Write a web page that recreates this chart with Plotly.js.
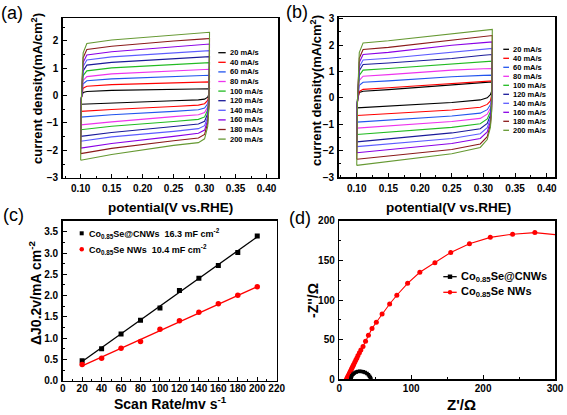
<!DOCTYPE html>
<html><head><meta charset="utf-8">
<script src="https://cdn.plot.ly/plotly-3.0.1.min.js"></script>
<style>html,body{margin:0;padding:0;background:#fff;}#chart{width:567px;height:415px;}</style>
</head><body><div id="chart"></div>
<script>
// ---------- data ----------
const rates = [20, 40, 60, 80, 100, 120, 140, 160, 180, 200];
const cvColors = ['#000000', '#ff0000', '#2255ee', '#ee33ee', '#22bb22', '#1a1a99', '#5c5cff', '#8a00e6', '#8b1a1a', '#669933'];

// potential along each closed CV loop (upper sweep, then lower sweep back)
const potentialA = [0.100, 0.101, 0.104, 0.110, 0.150, 0.200, 0.250, 0.300, 0.308, 0.307, 0.305, 0.300, 0.290, 0.250, 0.200, 0.150, 0.100];
const potentialB = [0.100, 0.101, 0.104, 0.110, 0.150, 0.200, 0.250, 0.300, 0.314, 0.313, 0.311, 0.306, 0.295, 0.250, 0.200, 0.150, 0.100];

// (a) current density, mA/cm2
const a20  = [-0.32, -0.08, 0.11, 0.15, 0.19, 0.21, 0.23, 0.25, 0.25, 0.05, -0.06, -0.13, -0.16, -0.19, -0.23, -0.27, -0.32];
const a40  = [-0.58, -0.12, 0.27, 0.34, 0.40, 0.43, 0.46, 0.49, 0.50, 0.00, -0.18, -0.30, -0.35, -0.40, -0.45, -0.51, -0.58];
const a60  = [-0.79, -0.12, 0.43, 0.54, 0.61, 0.65, 0.69, 0.73, 0.74, -0.05, -0.30, -0.46, -0.52, -0.58, -0.64, -0.70, -0.79];
const a80  = [-1.07, -0.19, 0.55, 0.69, 0.79, 0.84, 0.90, 0.95, 0.96, -0.10, -0.42, -0.62, -0.70, -0.77, -0.86, -0.96, -1.07];
const a100 = [-1.25, -0.17, 0.73, 0.90, 1.01, 1.07, 1.13, 1.19, 1.20, -0.15, -0.53, -0.78, -0.87, -0.95, -1.04, -1.12, -1.25];
const a120 = [-1.49, -0.19, 0.90, 1.11, 1.21, 1.28, 1.35, 1.41, 1.42, -0.20, -0.66, -0.94, -1.04, -1.13, -1.24, -1.35, -1.49];
const a140 = [-1.67, -0.18, 1.06, 1.30, 1.41, 1.49, 1.56, 1.63, 1.64, -0.27, -0.78, -1.10, -1.21, -1.31, -1.41, -1.51, -1.67];
const a160 = [-1.92, -0.22, 1.21, 1.48, 1.60, 1.69, 1.78, 1.86, 1.88, -0.33, -0.90, -1.26, -1.38, -1.49, -1.62, -1.75, -1.92];
const a180 = [-2.12, -0.22, 1.38, 1.68, 1.80, 1.90, 1.99, 2.07, 2.08, -0.38, -1.02, -1.42, -1.55, -1.65, -1.79, -1.93, -2.12];
const a200 = [-2.36, -0.23, 1.56, 1.90, 2.03, 2.12, 2.21, 2.29, 2.31, -0.45, -1.14, -1.58, -1.72, -1.82, -1.99, -2.15, -2.36];

// (b) current density, mA/cm2
const b20  = [-0.38, -0.07, 0.20, 0.25, 0.31, 0.39, 0.48, 0.57, 0.60, 0.25, 0.12, 0.00, -0.08, -0.18, -0.25, -0.31, -0.38];
const b40  = [-0.67, -0.18, 0.24, 0.32, 0.38, 0.46, 0.55, 0.62, 0.64, 0.10, -0.12, -0.25, -0.36, -0.46, -0.53, -0.60, -0.67];
const b60  = [-0.92, -0.17, 0.47, 0.59, 0.64, 0.72, 0.80, 0.85, 0.86, 0.00, -0.26, -0.45, -0.58, -0.69, -0.77, -0.84, -0.92];
const b80  = [-1.15, -0.17, 0.66, 0.82, 0.88, 0.96, 1.05, 1.10, 1.11, -0.08, -0.40, -0.62, -0.78, -0.90, -0.99, -1.07, -1.15];
const b100 = [-1.39, -0.17, 0.85, 1.05, 1.11, 1.19, 1.28, 1.37, 1.39, -0.15, -0.53, -0.80, -0.98, -1.12, -1.21, -1.30, -1.39];
const b120 = [-1.67, -0.21, 1.03, 1.26, 1.32, 1.40, 1.49, 1.61, 1.64, -0.22, -0.66, -0.97, -1.17, -1.33, -1.44, -1.56, -1.67];
const b140 = [-1.85, -0.21, 1.17, 1.43, 1.50, 1.62, 1.74, 1.84, 1.87, -0.30, -0.78, -1.13, -1.36, -1.54, -1.64, -1.74, -1.85];
const b160 = [-2.08, -0.22, 1.34, 1.64, 1.72, 1.86, 1.99, 2.09, 2.12, -0.38, -0.90, -1.29, -1.54, -1.73, -1.85, -1.96, -2.08];
const b180 = [-2.33, -0.25, 1.50, 1.83, 1.91, 2.05, 2.18, 2.32, 2.36, -0.45, -1.03, -1.47, -1.75, -1.96, -2.09, -2.21, -2.33];
const b200 = [-2.56, -0.24, 1.71, 2.08, 2.16, 2.29, 2.41, 2.55, 2.59, -0.52, -1.12, -1.58, -1.88, -2.12, -2.27, -2.41, -2.56];

// (c) capacitive current vs scan rate
const scanRate = [20, 40, 60, 80, 100, 120, 140, 160, 180, 200];
const dJ_CNWs = [0.47, 0.75, 1.10, 1.42, 1.71, 2.12, 2.41, 2.71, 3.01, 3.40];
const dJ_NWs  = [0.38, 0.53, 0.76, 0.92, 1.21, 1.41, 1.61, 1.81, 2.01, 2.21];
const fitRange = [20, 200];
const fit_CNWs = [0.45, 3.38];
const fit_NWs  = [0.35, 2.21];
const seriesNames = ['Co<sub>0.85</sub>Se@CNWs', 'Co<sub>0.85</sub>Se NWs'];
const capacitances = ['16.3 mF cm<sup>-2</sup>', '10.4 mF cm<sup>-2</sup>'];

// (d) Nyquist plots
const zRe_NWs = [10, 11, 12, 13, 14, 15, 16, 17, 18, 19, 20, 21.5, 23, 24.5, 26, 28, 30, 33, 36.5, 40.5, 45.5, 51.5, 59.5, 70, 80, 95, 112, 133, 155, 181, 210, 241, 272, 305];
const zIm_NWs = [0, 1.8, 3.7, 5.5, 7.4, 9.3, 11.2, 13, 15, 16.8, 18.6, 21.5, 24.3, 27, 30, 33.6, 37, 41.5, 48, 55.5, 64, 72, 82.4, 95, 106, 121, 135, 147, 160, 171, 179, 183, 185, 182];
const zRe_CNWs = [16, 16.5, 17.5, 19, 21, 23.5, 26, 28.5, 31, 33.5, 36, 38.5, 40.5, 42, 43.2, 44];
const zIm_CNWs = [0, 2.5, 4.6, 6.5, 8.0, 9.1, 9.7, 10.0, 9.9, 9.5, 8.7, 7.4, 5.8, 4.0, 2.2, 0.3];

const seriesA = [a20, a40, a60, a80, a100, a120, a140, a160, a180, a200];
const seriesB = [b20, b40, b60, b80, b100, b120, b140, b160, b180, b200];

// ---------- helpers ----------
const W = 567, H = 415;
const px = x => x / W;
const py = y => 1 - y / H;
const FONT = 'Liberation Sans, Arial, sans-serif';

const traces = [];
seriesA.forEach((s, i) => traces.push({
  type: 'scatter', mode: 'lines', x: potentialA, y: s, xaxis: 'x', yaxis: 'y',
  line: {color: cvColors[i], width: 1.1}, showlegend: false, hoverinfo: 'skip'
}));
seriesB.forEach((s, i) => traces.push({
  type: 'scatter', mode: 'lines', x: potentialB, y: s, xaxis: 'x2', yaxis: 'y2',
  line: {color: cvColors[i], width: 1.1}, showlegend: false, hoverinfo: 'skip'
}));
traces.push({type: 'scatter', mode: 'lines', x: fitRange, y: fit_CNWs, xaxis: 'x3', yaxis: 'y3', line: {color: '#000', width: 1.3}, showlegend: false});
traces.push({type: 'scatter', mode: 'lines', x: fitRange, y: fit_NWs, xaxis: 'x3', yaxis: 'y3', line: {color: '#ff0000', width: 1.3}, showlegend: false});
traces.push({type: 'scatter', mode: 'markers', x: scanRate, y: dJ_CNWs, xaxis: 'x3', yaxis: 'y3', marker: {symbol: 'square', size: 5, color: '#000'}, showlegend: false});
traces.push({type: 'scatter', mode: 'markers', x: scanRate, y: dJ_NWs, xaxis: 'x3', yaxis: 'y3', marker: {symbol: 'circle', size: 5.5, color: '#ff0000'}, showlegend: false});
traces.push({type: 'scatter', mode: 'lines+markers', x: zRe_NWs, y: zIm_NWs, xaxis: 'x4', yaxis: 'y4', line: {color: '#ff0000', width: 1.1}, marker: {symbol: 'circle', size: 5, color: '#ff0000'}, showlegend: false});
traces.push({type: 'scatter', mode: 'lines+markers', x: zRe_CNWs, y: zIm_CNWs, xaxis: 'x4', yaxis: 'y4', line: {color: '#000', width: 3}, marker: {symbol: 'square', size: 3.5, color: '#000'}, showlegend: false});

function axis(extra) {
  return Object.assign({
    showline: true, linecolor: '#000', linewidth: 1.5, mirror: true,
    ticks: 'inside', ticklen: 4, tickwidth: 1, tickcolor: '#000',
    showgrid: false, zeroline: false, fixedrange: true,
    tickfont: {family: FONT, size: 10, color: '#000', weight: 'bold'},
    ticklabelstandoff: 1
  }, extra);
}

const annotations = [];
const shapes = [];
function text(x, y, t, size, opts) {
  annotations.push(Object.assign({
    xref: 'paper', yref: 'paper', x: px(x), y: py(y), text: t, showarrow: false,
    xanchor: 'center', yanchor: 'middle',
    font: {family: FONT, size: size, color: '#000'}
  }, opts || {}));
}

// panel labels
text(12, 13, '(a)', 18);
text(297, 12, '(b)', 18);
text(13, 215, '(c)', 18);
text(300, 218, '(d)', 18);

// axis titles
text(170.5, 207, '<b>potential(V vs.RHE)</b>', 13.5);
text(448, 207, '<b>potential(V vs.RHE)</b>', 13.5);
text(37, 89, '<b>current density(mA/cm<sup>2</sup>)</b>', 13, {textangle: -90});
text(316, 91, '<b>current density(mA/cm<sup>2</sup>)</b>', 13, {textangle: -90});
text(170, 403, '<b>Scan Rate/mv s<sup>-1</sup></b>', 14);
text(35, 293, '<b>ΔJ0.2v/mA cm<sup>-2</sup></b>', 14, {textangle: -90});
text(461, 404, "<b>Z'/Ω</b>", 15);
text(313, 301, "<b>-Z''/Ω</b>", 14, {textangle: -90});

// CV legends (a) and (b)
rates.forEach((r, i) => {
  const ya = 52.7 + 9.6 * i;
  shapes.push({type: 'line', xref: 'paper', yref: 'paper', x0: px(218.3), x1: px(225.7), y0: py(ya), y1: py(ya), line: {color: cvColors[i], width: 1.3}});
  text(228, ya, '<b>' + r + ' mA/s</b>', 7.5, {xanchor: 'left'});
  const yb = 49.3 + 9.0 * i;
  shapes.push({type: 'line', xref: 'paper', yref: 'paper', x0: px(503.3), x1: px(509), y0: py(yb), y1: py(yb), line: {color: cvColors[i], width: 1.3}});
  text(511, yb, '<b>' + r + ' mA/s</b>', 7.5, {xanchor: 'left'});
});

// (c) legend
shapes.push({type: 'rect', xref: 'paper', yref: 'paper', x0: px(79.7), x1: px(83.7), y0: py(231.3), y1: py(235.3), fillcolor: '#000', line: {width: 0}});
shapes.push({type: 'circle', xref: 'paper', yref: 'paper', x0: px(79.5), x1: px(84), y0: py(247), y1: py(251.5), fillcolor: '#ff0000', line: {width: 0}});
text(87, 233.3, '<b>' + seriesNames[0] + '  ' + capacitances[0] + '</b>', 9, {xanchor: 'left'});
text(87, 249.3, '<b>' + seriesNames[1] + '  ' + capacitances[1] + '</b>', 9, {xanchor: 'left'});

// (d) legend
[[276.7, '#000', 'rect'], [292.3, '#ff0000', 'circle']].forEach(([yy, c, sym], i) => {
  shapes.push({type: 'line', xref: 'paper', yref: 'paper', x0: px(443.3), x1: px(456.7), y0: py(yy), y1: py(yy), line: {color: c, width: 1.3}});
  shapes.push({type: sym, xref: 'paper', yref: 'paper', x0: px(447.8), x1: px(452.2), y0: py(yy - 2.2), y1: py(yy + 2.2), fillcolor: c, line: {width: 0}});
  text(458.5, yy, '<b>' + seriesNames[i] + '</b>', 11, {xanchor: 'left'});
});

const layout = {
  width: W, height: H, margin: {l: 0, r: 0, t: 0, b: 0},
  paper_bgcolor: '#fff', plot_bgcolor: '#fff', showlegend: false,
  font: {family: FONT, color: '#000'},
  xaxis: axis({domain: [px(62.7), px(278.3)], anchor: 'y', range: [0.071, 0.419], tick0: 0.1, dtick: 0.05, tickformat: '.2f', minor: {ticks: 'inside', ticklen: 2, tickcolor: '#000', dtick: 0.025}}),
  yaxis: axis({domain: [py(177.7), py(18.3)], anchor: 'x', range: [-3, 2.82], dtick: 1, minor: {ticks: 'inside', ticklen: 2, tickcolor: '#000', dtick: 0.5}}),
  xaxis2: axis({domain: [px(338.7), px(555)], anchor: 'y2', range: [0.0715, 0.413], tick0: 0.1, dtick: 0.05, tickformat: '.2f', minor: {ticks: 'inside', ticklen: 2, tickcolor: '#000', dtick: 0.025}}),
  yaxis2: axis({domain: [py(177), py(17.3)], anchor: 'x2', range: [-3, 3.05], dtick: 1, minor: {ticks: 'inside', ticklen: 2, tickcolor: '#000', dtick: 0.5}}),
  xaxis3: axis({domain: [px(62.7), px(276.7)], anchor: 'y3', range: [0, 220], dtick: 20, ticklabelstandoff: -2, minor: {ticks: 'inside', ticklen: 2, tickcolor: '#000', dtick: 10}}),
  yaxis3: axis({domain: [py(380.7), py(220.7)], anchor: 'x3', range: [0, 3.76], dtick: 0.5, tickformat: '.1f', minor: {ticks: 'inside', ticklen: 2, tickcolor: '#000', dtick: 0.25}}),
  xaxis4: axis({domain: [px(339.3), px(555)], anchor: 'y4', range: [0, 300], dtick: 100, ticklabelstandoff: -1, minor: {ticks: 'inside', ticklen: 2, tickcolor: '#000', dtick: 50}}),
  yaxis4: axis({domain: [py(379.3), py(220.7)], anchor: 'x4', range: [0, 200], dtick: 50, minor: {ticks: 'inside', ticklen: 2, tickcolor: '#000', dtick: 25}}),
  annotations: annotations,
  shapes: shapes
};

Plotly.newPlot('chart', traces, layout, {staticPlot: true, displayModeBar: false});
</script>
</body></html>
